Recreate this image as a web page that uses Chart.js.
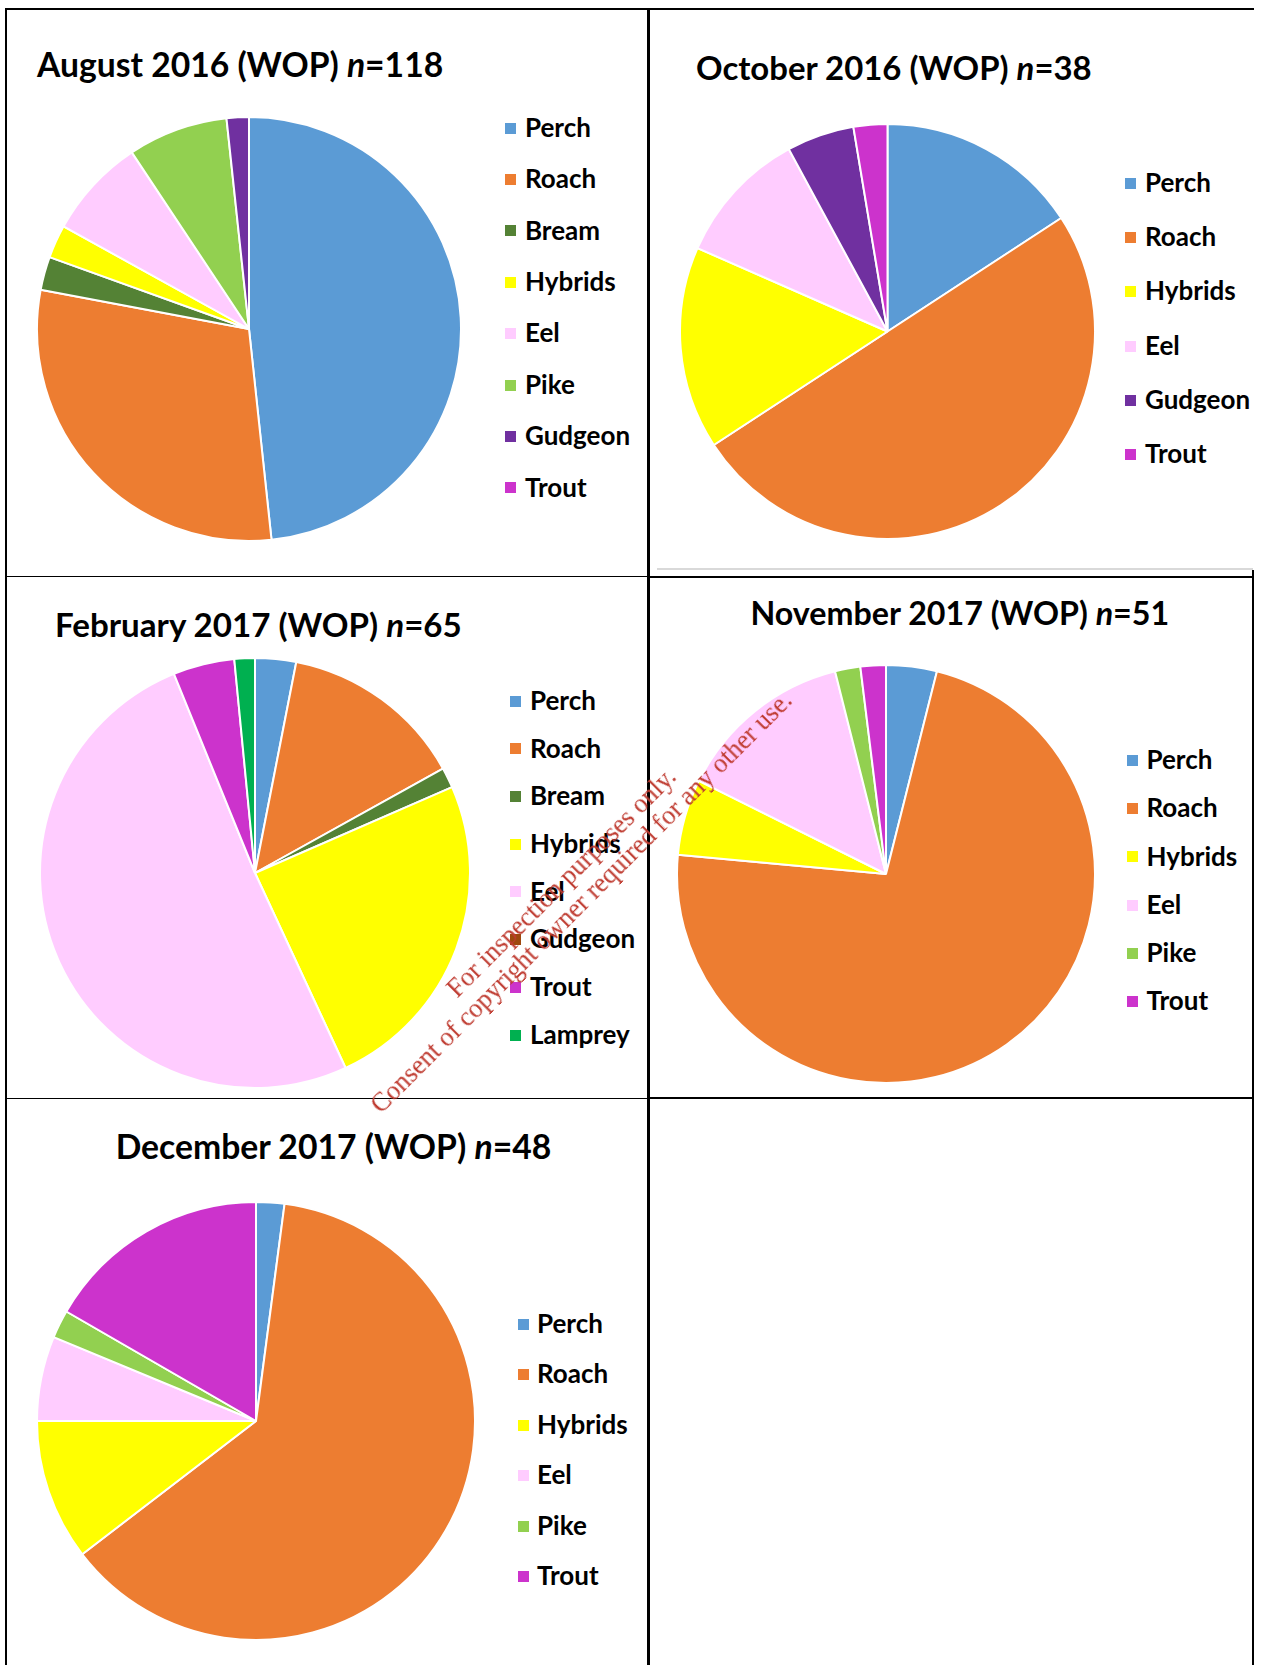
<!DOCTYPE html>
<html lang="en">
<head>
<meta charset="UTF-8">
<title>WOP catch composition</title>
<script src="https://cdn.jsdelivr.net/npm/chart.js"></script>
<style>
  html, body {
    margin: 0;
    padding: 0;
    background: #fff;
  }
  body {
    position: relative;
    width: 1261px;
    height: 1665px;
    overflow: hidden;
    font-family: Lato, "Open Sans", "DejaVu Sans", sans-serif;
    color: #000;
  }
  /* table rules */
  .rule { position: absolute; background: #000; }
  .rule.grey { background: #d9d9d9; }

  .title {
    position: absolute;
    font-weight: bold;
    line-height: 1;
    white-space: nowrap;
  }
  .title i { font-style: italic; }

  .legend-item {
    position: absolute;
    font-weight: bold;
    font-size: 26px;
    line-height: 1;
    white-space: nowrap;
  }
  .legend-box { position: absolute; width: 11px; height: 11px; }

  canvas { position: absolute; }

  /* watermark over the page */
  .watermark {
    position: absolute;
    width: 800px;
    left: 171px;
    top: 864px;
    text-align: center;
    font-family: "Liberation Serif", "Times New Roman", serif;
    font-size: 26.5px;
    line-height: 28px;
    color: #bf3b30;
    transform: rotate(-45deg);
    transform-origin: 400px 28px;
    white-space: nowrap;
    z-index: 5;
  }
</style>
</head>
<body>

<div class="rule" style="left:5px; top:8px; width:1249px; height:2px;"></div>
<div class="rule" style="left:5px; top:8px; width:2px; height:1657px;"></div>
<div class="rule" style="left:647px; top:8px; width:2.5px; height:1657px;"></div>
<div class="rule" style="left:1252px; top:570px; width:2px; height:1095px;"></div>
<div class="rule grey" style="left:657px; top:568px; width:596px; height:2px;"></div>
<div class="rule" style="left:5px; top:576px; width:642px; height:1px;"></div>
<div class="rule" style="left:647px; top:576px; width:607px; height:2px;"></div>
<div class="rule" style="left:5px; top:1097.5px; width:642px; height:1.5px;"></div>
<div class="rule" style="left:647px; top:1097px; width:607px; height:2px;"></div>

<div id="page"></div>

<div class="watermark">For inspection purposes only.<br>Consent of copyright owner required for any other use.</div>

<script>
  // August 2016, n=118
  const augLabels = ['Perch', 'Roach', 'Bream', 'Hybrids', 'Eel', 'Pike', 'Gudgeon', 'Trout'];
  const augCounts = [57, 35, 3, 3, 9, 9, 2, 0];

  // October 2016, n=38
  const octLabels = ['Perch', 'Roach', 'Hybrids', 'Eel', 'Gudgeon', 'Trout'];
  const octCounts = [6, 19, 6, 4, 2, 1];

  // February 2017, n=65
  const febLabels = ['Perch', 'Roach', 'Bream', 'Hybrids', 'Eel', 'Gudgeon', 'Trout', 'Lamprey'];
  const febCounts = [2, 9, 1, 16, 33, 0, 3, 1];

  // November 2017, n=51
  const novLabels = ['Perch', 'Roach', 'Hybrids', 'Eel', 'Pike', 'Trout'];
  const novCounts = [2, 37, 3, 7, 1, 1];

  // December 2017, n=48
  const decLabels = ['Perch', 'Roach', 'Hybrids', 'Eel', 'Pike', 'Trout'];
  const decCounts = [1, 30, 5, 3, 1, 8];

  const titles = [
    ['August 2016 (WOP) ', '118'],
    ['October 2016 (WOP) ', '38'],
    ['February 2017 (WOP) ', '65'],
    ['November 2017 (WOP) ', '51'],
    ['December 2017 (WOP) ', '48']
  ];

  // species colours (Excel palette)
  const speciesColour = {
    Perch: '#5b9bd5',
    Roach: '#ed7d31',
    Bream: '#548235',
    Hybrids: '#ffff00',
    Eel: '#ffccff',
    Pike: '#92d050',
    Gudgeon: '#7030a0',
    Trout: '#cc33cc',
    Lamprey: '#00b050'
  };

  // where each panel sits on the page
  const panels = [
    {labels: augLabels, counts: augCounts, cx: 248.5, cy: 329, r: 212, tx: 37, tMid: 66, tW: 406, lx: 505, ltx: 525, ly: 127.5, step: 51.4},
    {labels: octLabels, counts: octCounts, cx: 887, cy: 331, r: 207.5, tx: 696, tMid: 69, tW: 396, lx: 1125, ltx: 1145, ly: 182.6, step: 54.3},
    {labels: febLabels, counts: febCounts, cx: 255, cy: 873, r: 215, tx: 55, tMid: 625, tW: 407, lx: 509.5, ltx: 530, ly: 700.6, step: 47.7, gudgeon: '#9e480e'},
    {labels: novLabels, counts: novCounts, cx: 886, cy: 874, r: 209, tx: 750.5, tMid: 613.5, tW: 419, lx: 1127, ltx: 1146.5, ly: 760, step: 48.2},
    {labels: decLabels, counts: decCounts, cx: 256, cy: 1421, r: 219, tx: 115.7, tMid: 1147.5, tW: 436, lx: 518, ltx: 537, ly: 1323.7, step: 50.5}
  ];

  const page = document.getElementById('page');

  panels.forEach(function (p, i) {
    const colours = p.labels.map(function (name) {
      if (name === 'Gudgeon' && p.gudgeon) return p.gudgeon;
      return speciesColour[name];
    });

    // title, fitted to the width in the original
    const t = document.createElement('div');
    t.className = 'title';
    t.innerHTML = titles[i][0] + '<i>n</i>=' + titles[i][1];
    t.style.fontSize = '31px';
    t.style.left = p.tx + 'px';
    page.appendChild(t);
    const size = 31 * p.tW / t.offsetWidth;
    t.style.fontSize = size + 'px';
    t.style.top = (p.tMid - 0.527 * size) + 'px';

    // legend
    p.labels.forEach(function (name, k) {
      const y = p.ly + k * p.step;
      const box = document.createElement('div');
      box.className = 'legend-box';
      box.style.left = p.lx + 'px';
      box.style.top = (y - 5) + 'px';
      box.style.background = colours[k];
      page.appendChild(box);

      const txt = document.createElement('div');
      txt.className = 'legend-item';
      txt.textContent = name;
      txt.style.left = p.ltx + 'px';
      txt.style.top = (y - 0.527 * 26) + 'px';
      page.appendChild(txt);
    });

    // pie
    const side = Math.round(2 * p.r + 2);
    const canvas = document.createElement('canvas');
    canvas.width = side;
    canvas.height = side;
    canvas.style.left = (p.cx - side / 2) + 'px';
    canvas.style.top = (p.cy - side / 2) + 'px';
    page.appendChild(canvas);

    new Chart(canvas, {
      type: 'pie',
      data: {
        labels: p.labels,
        datasets: [{
          data: p.counts,
          backgroundColor: colours,
          borderColor: '#ffffff',
          borderWidth: 2
        }]
      },
      options: {
        responsive: false,
        animation: false,
        layout: {padding: 0},
        plugins: {
          legend: {display: false},
          tooltip: {enabled: false}
        }
      }
    });
  });
</script>
</body>
</html>
